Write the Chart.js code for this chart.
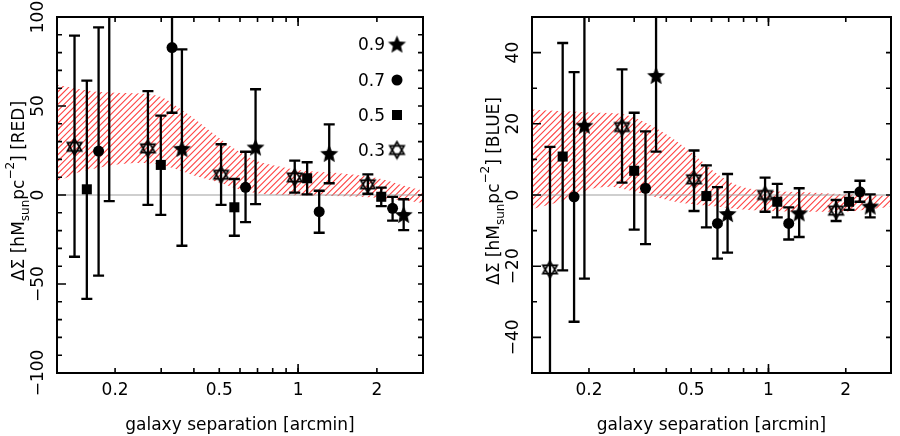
<!DOCTYPE html>
<html>
<head>
<meta charset="utf-8">
<script src="https://cdn.jsdelivr.net/npm/chart.js@4.4.1/dist/chart.umd.min.js"></script>
<style>
  html, body { margin: 0; padding: 0; background: #fff; }
  #wrap { display: flex; width: 900px; height: 436px; }
  .painel { width: 450px; height: 436px; }
</style>
</head>
<body>
<div id="wrap">
  <div class="painel"><canvas id="red" width="450" height="436"></canvas></div>
  <div class="painel"><canvas id="blue" width="450" height="436"></canvas></div>
</div>
<script>
// Pontos: [separacao, valor, limite inferior, limite superior]
const redStar = [[0.190, 112, -3.4, 228], [0.360, 26.2, -28.5, 81.8], [0.688, 27.0, -5.1, 59.4], [1.315, 23.4, 6.6, 39.7], [2.531, -10.9, -19.7, -2.4]];
const redCircle = [[0.173, 24.7, -45.3, 94.2], [0.330, 82.8, 46.2, 119.4], [0.630, 4.3, -15.2, 24.3], [1.204, -9.4, -21.2, 2.4], [2.296, -7.5, -14.4, -1.0]];
const redSquare = [[0.156, 3.2, -58.4, 64.2], [0.299, 16.9, -11.2, 44.6], [0.571, -6.9, -22.9, 9.0], [1.083, 9.4, 0.4, 18.4], [2.078, -1.0, -6.2, 4.1]];
const redHex = [[0.140, 27.1, -34.7, 89.5], [0.267, 26.2, -5.6, 58.4], [0.508, 11.4, -5.6, 28.5], [0.971, 9.9, 1.3, 19.3], [1.847, 6.0, 0.7, 11.6]];

const blueStar = [[0.192, 19.6, -23.5, 62.7], [0.365, 33.6, 12.2, 55.0], [0.693, -5.2, -16.2, 5.9], [1.317, -5.0, -11.8, 1.9], [2.490, -3.1, -6.3, 0.2]];
const blueCircle = [[0.175, -0.5, -35.6, 34.5], [0.332, 1.9, -13.8, 17.9], [0.633, -8.0, -17.9, 2.2], [1.199, -8.0, -12.5, -3.5], [2.270, 0.9, -1.9, 4.0]];
const blueSquare = [[0.158, 10.8, -21.2, 42.7], [0.300, 6.8, -9.7, 23.1], [0.573, -0.3, -9.1, 8.3], [1.082, -1.9, -6.3, 3.1], [2.060, -1.9, -4.2, 0.8]];
const blueHex = [[0.141, -20.9, -55.3, 13.5], [0.269, 19.1, 3.5, 35.3], [0.513, 4.4, -4.5, 12.5], [0.970, 0.0, -4.7, 4.9], [1.834, -4.4, -7.3, -1.4]];

// Faixa hachurada (modelo)
const redBandX = [0.12, 0.14, 0.17, 0.2, 0.25, 0.3, 0.35, 0.4, 0.5, 0.6, 0.7, 0.85, 1, 1.5, 2, 2.5, 3];
const redBandHi = [62, 60, 58, 57.5, 57, 55, 49, 43, 32, 24, 19, 16, 14, 12, 9.5, 5.5, 2.5];
const redBandLo = [7, 12, 15, 17, 18, 17, 14, 11, 7, 3, 1, 0, -0.3, -0.7, -1.5, -3, -4.5];

const blueBandX = [0.12, 0.16, 0.2, 0.24, 0.28, 0.36, 0.44, 0.54, 0.63, 0.77, 1, 1.4, 1.9, 2.5, 3];
const blueBandHi = [24, 23.5, 23.2, 23, 22.5, 19, 15, 10, 6, 2.5, 1.2, 0.8, 0.3, 0, -0.3];
const blueBandLo = [-4, -1.5, 1.5, 2.3, 1.5, -0.5, -2, -2.8, -3.2, -4, -4.5, -4.7, -4.7, -4, -3.3];

const legendLabels = ['0.9', '0.7', '0.5', '0.3'];
const xTickLabels = [0.2, 0.5, 1, 2];
const xMinorTicks = [0.3, 0.4, 0.6, 0.7, 0.8, 0.9];
const xMajorTicks = [1];
const redYLabels = [-100, -50, 0, 50, 100];
const blueYLabels = [-40, -20, 0, 20, 40];

const FONT = '"DejaVu Sans", sans-serif';

function criarEstrela(r) {
  const s = Math.ceil(r * 2 + 2);
  const c = document.createElement('canvas');
  c.width = s; c.height = s;
  const g = c.getContext('2d');
  g.translate(s / 2, s / 2 + r * 0.1);
  g.beginPath();
  for (let i = 0; i < 10; i++) {
    const rr = i % 2 ? r * 0.45 : r;
    const a = -Math.PI / 2 + i * Math.PI / 5;
    g.lineTo(rr * Math.cos(a), rr * Math.sin(a));
  }
  g.closePath();
  g.fillStyle = '#000';
  g.fill();
  return c;
}

function criarHexagrama(r) {
  const s = Math.ceil(r * 2 + 4);
  const c = document.createElement('canvas');
  c.width = s; c.height = s;
  const g = c.getContext('2d');
  g.translate(s / 2, s / 2);
  g.strokeStyle = '#000';
  g.lineWidth = 1.7;
  [-Math.PI / 2, Math.PI / 2].forEach(off => {
    g.beginPath();
    for (let i = 0; i < 3; i++) {
      const a = off + i * 2 * Math.PI / 3;
      g.lineTo(r * Math.cos(a), r * Math.sin(a));
    }
    g.closePath();
    g.stroke();
  });
  return c;
}

const estrela = criarEstrela(9.5);
const hexagrama = criarHexagrama(8.2);
const simbolos = [estrela, 'circle', 'rect', hexagrama];

function desenharSimbolo(ctx, kind, x, y) {
  ctx.fillStyle = '#000';
  if (kind === 'circle') {
    ctx.beginPath(); ctx.arc(x, y, 5.5, 0, Math.PI * 2); ctx.fill();
  } else if (kind === 'rect') {
    ctx.fillRect(x - 5, y - 5, 10, 10);
  } else {
    ctx.drawImage(kind, x - kind.width / 2, y - kind.height / 2);
  }
}

function fmt(v) {
  return v < 0 ? '\u2212' + Math.abs(v) : String(v);
}

// Eixos, hachura, barras de erro, titulos e legenda
function pluginMoldura(cfg) {
  return {
    id: 'moldura',
    beforeDatasetsDraw(chart) {
      const { ctx, chartArea: a, scales: { x, y } } = chart;
      ctx.save();
      ctx.beginPath();
      ctx.rect(a.left, a.top, a.right - a.left, a.bottom - a.top);
      ctx.clip();

      // hachura entre as duas curvas da faixa
      const linhaHi = chart.getDatasetMeta(4).dataset;
      const linhaLo = chart.getDatasetMeta(5).dataset;
      linhaHi.updateControlPoints(a, 'x');
      linhaLo.updateControlPoints(a, 'x');
      ctx.save();
      ctx.beginPath();
      linhaHi.path(ctx);
      ctx.lineTo(a.right + 5, a.bottom + 5); ctx.lineTo(a.left - 5, a.bottom + 5);
      ctx.closePath();
      ctx.clip();
      ctx.beginPath();
      linhaLo.path(ctx);
      ctx.lineTo(a.right + 5, a.top - 5); ctx.lineTo(a.left - 5, a.top - 5);
      ctx.closePath();
      ctx.clip();
      ctx.strokeStyle = 'rgba(255,20,20,0.8)';
      ctx.lineWidth = 1.1;
      const h = a.bottom - a.top;
      ctx.beginPath();
      for (let k = -h; k < a.right - a.left + 5; k += 6.3) {
        ctx.moveTo(a.left + k, a.bottom);
        ctx.lineTo(a.left + k + h, a.top);
      }
      ctx.stroke();
      ctx.restore();

      const y0 = y.getPixelForValue(0);
      ctx.strokeStyle = '#a0a0a0';
      ctx.lineWidth = 1.2;
      ctx.beginPath(); ctx.moveTo(a.left, y0); ctx.lineTo(a.right, y0); ctx.stroke();

      ctx.strokeStyle = '#000';
      ctx.lineWidth = 2.3;
      cfg.grupos.forEach(grupo => {
        grupo.forEach(p => {
          const px = x.getPixelForValue(p[0]);
          const lo = y.getPixelForValue(p[2]);
          const hi = y.getPixelForValue(p[3]);
          ctx.beginPath();
          ctx.moveTo(px, lo); ctx.lineTo(px, hi);
          ctx.moveTo(px - 5.5, lo); ctx.lineTo(px + 5.5, lo);
          ctx.moveTo(px - 5.5, hi); ctx.lineTo(px + 5.5, hi);
          ctx.stroke();
        });
      });
      ctx.restore();
    },
    afterDraw(chart) {
      const { ctx, chartArea: a, scales: { x, y } } = chart;
      ctx.save();
      ctx.strokeStyle = '#000';
      ctx.fillStyle = '#000';
      ctx.lineWidth = 2;
      ctx.strokeRect(a.left, a.top, a.right - a.left, a.bottom - a.top);

      // ticks do eixo x (para dentro, em cima e embaixo)
      ctx.lineWidth = 1.6;
      const xTicks = [];
      xTickLabels.concat(xMinorTicks).forEach(v => xTicks.push([v, 5]));
      xMajorTicks.forEach(v => xTicks.push([v, 9]));
      xTicks.forEach(([v, len]) => {
        const px = x.getPixelForValue(v);
        ctx.beginPath();
        ctx.moveTo(px, a.bottom); ctx.lineTo(px, a.bottom - len);
        ctx.moveTo(px, a.top); ctx.lineTo(px, a.top + len);
        ctx.stroke();
      });

      // ticks do eixo y
      for (let v = y.min + 10; v < y.max; v += 10) {
        const py = y.getPixelForValue(v);
        const len = cfg.yLabels.includes(v) ? 9 : 5;
        ctx.beginPath();
        ctx.moveTo(a.left, py); ctx.lineTo(a.left + len, py);
        ctx.moveTo(a.right, py); ctx.lineTo(a.right - 5, py);
        ctx.stroke();
      }

      ctx.font = '17px ' + FONT;
      ctx.textAlign = 'center';
      ctx.textBaseline = 'alphabetic';
      xTickLabels.forEach(v => {
        ctx.fillText(String(v), x.getPixelForValue(v), a.bottom + 22);
      });

      ctx.textBaseline = 'middle';
      cfg.yLabels.forEach(v => {
        const py = y.getPixelForValue(v);
        ctx.save();
        ctx.translate(a.left - 18, py);
        ctx.rotate(-Math.PI / 2);
        ctx.fillText(fmt(v), 0, 0);
        ctx.restore();
      });

      // titulo x
      ctx.textBaseline = 'alphabetic';
      ctx.fillText('galaxy separation [arcmin]', (a.left + a.right) / 2, 430);

      // titulo y com subscrito e sobrescrito
      const partes = [
        { t: '\u0394\u03A3 [hM', s: 17, dy: 0 },
        { t: 'sun', s: 12, dy: 4.5 },
        { t: 'pc', s: 17, dy: 0 },
        { t: '\u22122', s: 12, dy: -10 },
        { t: '] [' + cfg.tag + ']', s: 17, dy: 0 }
      ];
      let total = 0;
      partes.forEach(p => { ctx.font = p.s + 'px ' + FONT; p.w = ctx.measureText(p.t).width; total += p.w; });
      ctx.save();
      ctx.translate(a.left - 33, (a.top + a.bottom) / 2 - 4);
      ctx.rotate(-Math.PI / 2);
      ctx.textAlign = 'left';
      let cx = -total / 2;
      partes.forEach(p => {
        ctx.font = p.s + 'px ' + FONT;
        ctx.fillText(p.t, cx, p.dy);
        cx += p.w;
      });
      ctx.restore();

      // legenda
      if (cfg.legenda) {
        ctx.font = '17px ' + FONT;
        ctx.textAlign = 'right';
        ctx.textBaseline = 'alphabetic';
        const linhas = [27, 63, 98, 133];
        legendLabels.forEach((lab, i) => {
          const ly = a.top + linhas[i];
          ctx.fillText(lab, a.right - 38, ly + 6);
          desenharSimbolo(ctx, simbolos[i], a.right - 26, ly);
        });
      }
      ctx.restore();
    }
  };
}

function pontos(arr) {
  return arr.map(p => ({ x: p[0], y: p[1] }));
}

function faixa(xs, ys) {
  return xs.map((v, i) => ({ x: v, y: ys[i] }));
}

function criarPainel(canvasId, grupos, bandX, bandHi, bandLo, yMin, yMax, yLabels, tag, padding, legenda) {
  const canvas = document.getElementById(canvasId);
  const ctx = canvas.getContext('2d');
  const datasets = grupos.map((g, i) => ({
    label: legendLabels[i],
    data: pontos(g),
    pointStyle: simbolos[i],
    pointRadius: simbolos[i] === 'rect' ? 7.1 : (simbolos[i] === 'circle' ? 5.5 : 9),
    backgroundColor: '#000',
    borderColor: '#000',
    borderWidth: 0
  }));
  // curvas da faixa: sem traço, so servem de contorno para a hachura
  [bandHi, bandLo].forEach((ys, i) => {
    datasets.push({
      label: i ? 'faixa-' : 'faixa+',
      data: faixa(bandX, ys),
      showLine: true,
      fill: false,
      borderColor: 'transparent',
      borderWidth: 0,
      pointRadius: 0,
      cubicInterpolationMode: 'monotone'
    });
  });

  return new Chart(ctx, {
    type: 'scatter',
    data: { datasets },
    options: {
      responsive: false,
      animation: false,
      events: [],
      layout: { padding },
      plugins: {
        legend: { display: false },
        tooltip: { enabled: false }
      },
      scales: {
        x: { type: 'logarithmic', min: 0.12, max: 3, display: false },
        y: { type: 'linear', min: yMin, max: yMax, display: false }
      }
    },
    plugins: [pluginMoldura({ grupos, yLabels, tag, legenda })]
  });
}

criarPainel('red', [redStar, redCircle, redSquare, redHex], redBandX, redBandHi, redBandLo,
  -100, 100, redYLabels, 'RED', { left: 57, right: 27, top: 17, bottom: 63 }, true);
criarPainel('blue', [blueStar, blueCircle, blueSquare, blueHex], blueBandX, blueBandHi, blueBandLo,
  -50, 50, blueYLabels, 'BLUE', { left: 82, right: 3, top: 17, bottom: 63 }, false);
</script>
</body>
</html>
